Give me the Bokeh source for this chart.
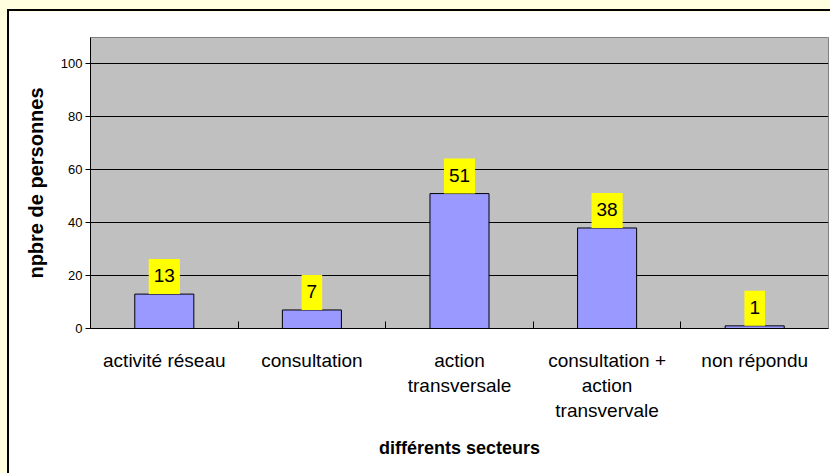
from bokeh.plotting import figure
from bokeh.models import (FactorRange, Range1d, LinearAxis, CategoricalAxis,
                          FixedTicker, ColumnDataSource)
from bokeh.core.properties import value
from bokeh.embed import file_html
from bokeh.resources import INLINE

# ---- data ----
categories = ["activité réseau", "consultation", "action\ntransversale",
              "consultation +\naction\ntransvervale", "non répondu"]
counts = [13, 7, 51, 38, 1]
y_ticks = [0, 20, 40, 60, 80, 100]
y_max = 110
x_title = "différents secteurs"
y_title = "npbre de personnes"

FONT = "Liberation Sans"

source = ColumnDataSource(dict(cat=categories, n=counts,
                               lbl=[str(c) for c in counts]))

p = figure(x_range=FactorRange(*categories), y_range=Range1d(0, y_max),
           width=823, height=464, output_backend="svg", toolbar_location=None,
           x_axis_location=None, y_axis_location="left",
           min_border_left=81, min_border_right=4, min_border_top=26,
           min_border_bottom=147)
p.margin = (9, 0, 0, 7)
p.styles = {"border-left": "2px solid black", "border-top": "2px solid black"}

p.background_fill_color = "#C0C0C0"
p.border_fill_color = "white"
p.outline_line_color = "#808080"
p.outline_line_width = 1

p.xgrid.grid_line_color = None
p.ygrid.ticker = FixedTicker(ticks=y_ticks)
p.ygrid.grid_line_color = "black"
p.ygrid.grid_line_width = 1

ya = p.yaxis[0]
ya.ticker = FixedTicker(ticks=y_ticks)
ya.axis_line_color = "black"
ya.major_tick_line_color = "black"
ya.major_tick_out = 5
ya.major_tick_in = 0
ya.minor_tick_line_color = None
ya.major_label_text_font = FONT
ya.major_label_text_font_size = "13px"
ya.major_label_text_color = "black"
ya.major_label_standoff = 3
ya.axis_label = y_title
ya.axis_label_text_font = FONT
ya.axis_label_text_font_size = "20px"
ya.axis_label_text_font_style = "bold"
ya.axis_label_text_color = "black"
ya.axis_label_standoff = 11

# separators between categories (synthetic coordinates of the factor range)
sep_axis = LinearAxis(ticker=FixedTicker(ticks=list(range(1, len(categories)))),
                      major_tick_in=7, major_tick_out=0,
                      minor_tick_in=0, minor_tick_out=0,
                      minor_tick_line_color=None,
                      major_tick_line_color="black",
                      axis_line_color="black",
                      major_label_overrides={i: "" for i in range(1, len(categories))},
                      major_label_standoff=0)
p.add_layout(sep_axis, "below")

cat_axis = CategoricalAxis(axis_line_color=None, major_tick_line_color=None,
                           minor_tick_line_color=None,
                           major_label_text_font=FONT,
                           major_label_text_font_size="19px",
                           major_label_text_color="black",
                           major_label_text_line_height=1.2,
                           major_label_standoff=15,
                           axis_label=x_title,
                           axis_label_text_font=FONT,
                           axis_label_text_font_size="18px",
                           axis_label_text_font_style="bold",
                           axis_label_text_color="black",
                           axis_label_standoff=14)
p.add_layout(cat_axis, "below")

p.vbar(x="cat", top="n", width=0.4, source=source,
       fill_color="#9999FF", line_color="black", line_width=1)

p.text(x="cat", y="n", text="lbl", source=source,
       text_align="center", text_baseline="bottom", y_offset=0,
       text_font=value(FONT), text_font_size=value("19px"),
       text_color="black", background_fill_color="yellow",
       padding=dict(left=5, right=5, top=10, bottom=12))

html = file_html(p, INLINE)
html = html.replace("<head>", "<head><style>body{background:#FFFFE0;}</style>", 1)
open("out.html", "w").write(html)
